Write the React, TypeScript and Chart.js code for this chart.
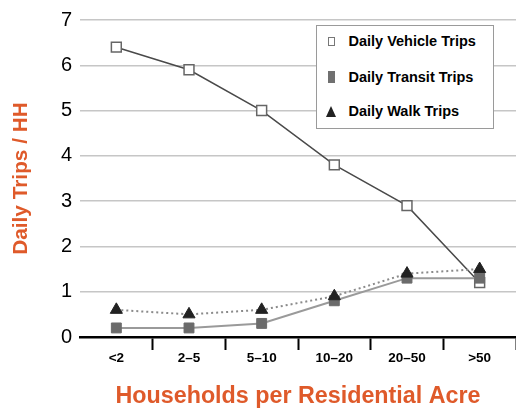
import React, { useEffect, useRef } from "react";
import { Chart, registerables } from "chart.js";

Chart.register(...registerables);

const categories = ["<2", "2–5", "5–10", "10–20", "20–50", ">50"];
const vehicleTrips = [6.4, 5.9, 5.0, 3.8, 2.9, 1.2];
const transitTrips = [0.2, 0.2, 0.3, 0.8, 1.3, 1.3];
const walkTrips = [0.6, 0.5, 0.6, 0.9, 1.4, 1.5];
const seriesNames = ["Daily Vehicle Trips", "Daily Transit Trips", "Daily Walk Trips"];
const yTitle = "Daily Trips / HH";
const xTitle = "Households per Residential Acre";

const ORANGE = "#DF5A2A";
const FONT = "'Liberation Sans', Arial, Helvetica, sans-serif";

export default function App() {
  const ref = useRef<HTMLCanvasElement | null>(null);

  useEffect(() => {
    document.body.style.margin = "0";
    const canvas = ref.current;
    if (!canvas) return;
    const chart = new Chart(canvas, {
      type: "line",
      data: {
        labels: categories,
        datasets: [
          {
            label: seriesNames[0],
            data: vehicleTrips,
            borderColor: "#4a4a4a",
            borderWidth: 1.5,
            pointStyle: "rect",
            pointRadius: 7,
            pointBackgroundColor: "#ffffff",
            pointBorderColor: "#666666",
            pointBorderWidth: 1.5,
            order: 2,
          },
          {
            label: seriesNames[1],
            data: transitTrips,
            borderColor: "#9a9a9a",
            borderWidth: 2,
            pointStyle: "rect",
            pointRadius: 7,
            pointBackgroundColor: "#6b6b6b",
            pointBorderColor: "#6b6b6b",
            pointBorderWidth: 1,
            order: 1,
          },
          {
            label: seriesNames[2],
            data: walkTrips,
            borderColor: "#8a8a8a",
            borderWidth: 2,
            borderDash: [2, 3],
            pointStyle: "triangle",
            pointRadius: 7,
            pointBackgroundColor: "#222222",
            pointBorderColor: "#222222",
            pointBorderWidth: 1,
            order: 0,
          },
        ],
      },
      options: {
        animation: false,
        responsive: false,
        maintainAspectRatio: false,
        layout: { autoPadding: false, padding: { top: 15, right: 0, left: 0, bottom: 0 } },
        plugins: {
          legend: { display: false },
          tooltip: { enabled: false },
        },
        scales: {
          x: {
            offset: true,
            border: { display: true, color: "#000000", width: 2.5 },
            grid: {
              display: true,
              offset: true,
              drawOnChartArea: false,
              drawTicks: true,
              tickLength: 13,
              tickWidth: 2,
              tickColor: (ctx: any) => (ctx.index === 0 ? "rgba(0,0,0,0)" : "#000000"),
            },
            ticks: {
              color: "#000000",
              padding: 0,
              font: { family: FONT, size: 13.5, weight: "bold" },
              maxRotation: 0,
            },
            title: {
              display: true,
              text: xTitle,
              color: ORANGE,
              font: { family: FONT, size: 23.3, weight: "bold", lineHeight: 1.0 },
              padding: { top: 0, bottom: 0 },
            },
            afterFit: (scale: any) => {
              scale.height = 71;
              scale.paddingRight = 0;
              scale.paddingLeft = 0;
            },
          },
          y: {
            min: 0,
            max: 7,
            border: { display: false },
            grid: {
              color: (ctx: any) => (ctx.tick && ctx.tick.value === 0 ? "#000000" : "#c6c6c6"),
              lineWidth: 1.5,
              drawTicks: false,
            },
            ticks: {
              stepSize: 1,
              color: "#000000",
              padding: 8,
              font: { family: FONT, size: 20 },
            },
            title: {
              display: true,
              text: yTitle,
              color: ORANGE,
              font: { family: FONT, size: 20.8, weight: "bold" },
              padding: { top: 9, bottom: 0 },
            },
            afterFit: (scale: any) => {
              scale.width = 80;
            },
          },
        },
      },
    });
    return () => chart.destroy();
  }, []);

  const row: React.CSSProperties = {
    position: "absolute",
    left: 0,
    display: "flex",
    alignItems: "center",
    height: 20,
    fontFamily: FONT,
    fontWeight: "bold",
    fontSize: 14.5,
    color: "#000",
    whiteSpace: "nowrap",
  };
  const iconBox: React.CSSProperties = {
    width: 22,
    display: "flex",
    justifyContent: "center",
    alignItems: "center",
    marginLeft: 3,
    marginRight: 6.5,
  };

  return (
    <div style={{ position: "relative", width: 516, height: 408 }}>
      <canvas ref={ref} width={516} height={408} style={{ display: "block" }} />
      <div
        style={{
          position: "absolute",
          left: 316,
          top: 25,
          width: 176,
          height: 102,
          border: "1.5px solid #9a9a9a",
          background: "#ffffff",
        }}
      >
        <div style={{ ...row, top: 5 }}>
          <div style={iconBox}>
            <div style={{ width: 5, height: 7, border: "1.5px solid #777", background: "#fff" }} />
          </div>
          <span>{seriesNames[0]}</span>
        </div>
        <div style={{ ...row, top: 40.5 }}>
          <div style={iconBox}>
            <div style={{ width: 7, height: 12, background: "#707070" }} />
          </div>
          <span>{seriesNames[1]}</span>
        </div>
        <div style={{ ...row, top: 75 }}>
          <div style={iconBox}>
            <div
              style={{
                width: 0,
                height: 0,
                borderLeft: "5px solid transparent",
                borderRight: "5px solid transparent",
                borderBottom: "11px solid #222",
              }}
            />
          </div>
          <span>{seriesNames[2]}</span>
        </div>
      </div>
    </div>
  );
}
